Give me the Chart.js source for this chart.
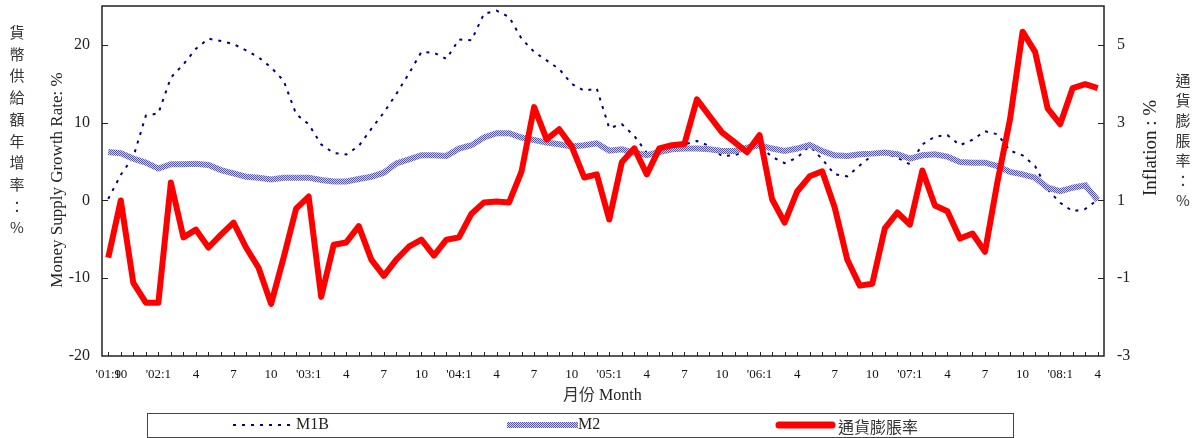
<!DOCTYPE html>
<html>
<head>
<meta charset="utf-8">
<script src="https://cdn.jsdelivr.net/npm/chart.js@4"></script>
<style>
  body { margin: 0; background: #fff; }
  #wrap { position: relative; width: 1193px; height: 438px; }
  .serif { font-family: "Liberation Serif", "Times New Roman", serif; color: #222; }
  .cjk { font-family: "Noto Sans CJK TC", sans-serif; color: #333; }
  .abs { position: absolute; white-space: nowrap; }
  .vcol { text-align: center; width: 20px; }
  .rot { transform: translate(-50%, -50%) rotate(-90deg); }
</style>
</head>
<body>
<div id="wrap">
  <canvas id="chart" width="1193" height="438"></canvas>

  <!-- axis titles -->
  <div class="abs cjk vcol" style="left:7px; top:21px; font-size:15px; line-height:21.7px;">貨<br>幣<br>供<br>給<br>額<br>年<br>增<br>率<br>：<br>%</div>
  <div class="abs serif rot" style="left:57px; top:180px; font-size:17px;">Money Supply Growth Rate: %</div>
  <div class="abs serif rot" style="left:1150px; top:148px; font-size:19px;">Inflation : %</div>
  <div class="abs cjk vcol" style="left:1173px; top:70px; font-size:15px; line-height:20px;">通<br>貨<br>膨<br>脹<br>率<br>：<br>%</div>
  <div class="abs" style="left:563px; top:381px; font-size:16px;"><span class="cjk">月份</span><span class="serif"> Month</span></div>

  <!-- legend -->
  <div class="abs" style="left:147px; top:413px; width:865px; height:23px; border:1px solid #444;"></div>
  <svg class="abs" style="left:147px; top:413px;" width="866" height="24">
    <defs>
      <pattern id="m2pat" width="2" height="2" patternUnits="userSpaceOnUse">
        <rect width="2" height="2" fill="#d0d0ee"/>
        <rect width="1" height="1" fill="#5858a8"/>
        <rect x="1" y="1" width="1" height="1" fill="#5858a8"/>
      </pattern>
    </defs>
    <line x1="86" y1="12" x2="144" y2="12" stroke="#000080" stroke-width="2" stroke-dasharray="3,6"/>
    <rect x="360" y="9" width="71" height="6" fill="url(#m2pat)"/>
    <line x1="632" y1="12" x2="685" y2="12" stroke="#ff0000" stroke-width="7" stroke-linecap="round"/>
  </svg>
  <div class="abs serif" style="left:296px; top:415px; font-size:16px;">M1B</div>
  <div class="abs serif" style="left:578px; top:415px; font-size:16px;">M2</div>
  <div class="abs cjk" style="left:838px; top:414px; font-size:16px;">通貨膨脹率</div>
</div>

<script>
// months from 2001:9 to 2008:4
const months = [
  "'01:9", "'01:10", "'01:11", "'01:12",
  "'02:1", "'02:2", "'02:3", "'02:4", "'02:5", "'02:6", "'02:7", "'02:8", "'02:9", "'02:10", "'02:11", "'02:12",
  "'03:1", "'03:2", "'03:3", "'03:4", "'03:5", "'03:6", "'03:7", "'03:8", "'03:9", "'03:10", "'03:11", "'03:12",
  "'04:1", "'04:2", "'04:3", "'04:4", "'04:5", "'04:6", "'04:7", "'04:8", "'04:9", "'04:10", "'04:11", "'04:12",
  "'05:1", "'05:2", "'05:3", "'05:4", "'05:5", "'05:6", "'05:7", "'05:8", "'05:9", "'05:10", "'05:11", "'05:12",
  "'06:1", "'06:2", "'06:3", "'06:4", "'06:5", "'06:6", "'06:7", "'06:8", "'06:9", "'06:10", "'06:11", "'06:12",
  "'07:1", "'07:2", "'07:3", "'07:4", "'07:5", "'07:6", "'07:7", "'07:8", "'07:9", "'07:10", "'07:11", "'07:12",
  "'08:1", "'08:2", "'08:3", "'08:4"
];

// money supply growth, % (left axis)
const m1b = [
  0.2, 3.3, 5.6, 10.9, 11.2, 15.8, 17.5, 19.5, 20.8, 20.5,
  20.1, 19.3, 18.4, 17.1, 15.4, 11.1, 9.8, 7.2, 6.1, 5.9,
  7.0, 9.2, 11.3, 13.7, 16.3, 19.1, 19.0, 18.2, 20.7, 20.6,
  24.0, 24.4, 23.6, 20.8, 19.1, 18.0, 16.9, 15.0, 14.1, 14.4,
  9.3, 9.8, 8.3, 6.1, 5.9, 6.8, 7.2, 7.65, 7.0, 5.7,
  5.8, 6.4, 7.0, 5.6, 4.8, 5.5, 7.0, 5.3, 3.35, 3.1,
  4.5, 5.8, 6.1, 5.5, 4.65, 7.2, 8.2, 8.4, 7.1, 7.8,
  8.9, 8.5, 6.4, 5.8, 4.4, 1.4, -0.3, -1.4, -1.1, 0.1
];
const m2 = [
  6.23, 6.06, 5.38, 4.86, 4.09, 4.65, 4.65, 4.73, 4.56, 3.91,
  3.48, 3.05, 2.93, 2.71, 2.93, 2.93, 2.93, 2.62, 2.45, 2.45,
  2.75, 3.05, 3.57, 4.77, 5.29, 5.81, 5.81, 5.72, 6.67, 7.1,
  8.09, 8.65, 8.65, 8.09, 7.78, 7.44, 7.23, 6.93, 7.1, 7.35,
  6.4, 6.58, 6.15, 5.81, 6.23, 6.58, 6.67, 6.67, 6.58, 6.36,
  6.36, 6.8, 7.1, 6.67, 6.36, 6.67, 7.14, 6.36, 5.81, 5.72,
  5.95, 6.02, 6.15, 5.94, 5.38, 5.81, 5.94, 5.63, 4.95, 4.86,
  4.86, 4.43, 3.66, 3.35, 2.93, 1.64, 1.2, 1.64, 1.94, 0.04
];
// inflation, % (right axis)
const inflation = [
  -0.47, 1.0, -1.12, -1.63, -1.63, 1.46, 0.05, 0.25, -0.21, 0.12,
  0.43, -0.21, -0.73, -1.66, -0.47, 0.79, 1.1, -1.48, -0.14, -0.08,
  0.34, -0.52, -0.94, -0.52, -0.19, -0.01, -0.42, -0.01, 0.05, 0.66,
  0.95, 0.97, 0.95, 1.75, 3.4, 2.57, 2.83, 2.39, 1.59, 1.67,
  0.51, 1.98, 2.34, 1.67, 2.34, 2.42, 2.45, 3.6, 3.17, 2.75,
  2.5, 2.24, 2.68, 1.03, 0.43, 1.23, 1.62, 1.75, 0.82, -0.52,
  -1.19, -1.14, 0.28, 0.69, 0.38, 1.77, 0.87, 0.72, 0.02, 0.15,
  -0.32, 1.49, 3.09, 5.34, 4.82, 3.37, 2.96, 3.89, 3.99, 3.89
];

const leftTicks = [-20, -10, 0, 10, 20];
const rightTicks = [-3, -1, 1, 3, 5];

const serif = '"Liberation Serif", "Times New Roman", serif';

function m2Pattern() {
  const c = document.createElement('canvas');
  c.width = 2; c.height = 2;
  const g = c.getContext('2d');
  g.fillStyle = '#d0d0ee';
  g.fillRect(0, 0, 2, 2);
  g.fillStyle = '#5858a8';
  g.fillRect(0, 0, 1, 1);
  g.fillRect(1, 1, 1, 1);
  return g.createPattern(c, 'repeat');
}

// box round the plot and the small inward ticks
const frame = {
  id: 'frame',
  afterDraw(chart) {
    const { ctx, chartArea: a, scales } = chart;
    ctx.save();
    ctx.strokeStyle = '#222';
    ctx.lineWidth = 1;
    ctx.beginPath();
    leftTicks.slice(1).forEach(v => {
      const y = Math.round(scales.y.getPixelForValue(v)) + 0.5;
      ctx.moveTo(a.left, y); ctx.lineTo(a.left + 6, y);
    });
    rightTicks.slice(1).forEach(v => {
      const y = Math.round(scales.y1.getPixelForValue(v)) + 0.5;
      ctx.moveTo(a.right, y); ctx.lineTo(a.right - 6, y);
    });
    for (let i = 0; i < months.length; i++) {
      const x = Math.round(scales.x.getPixelForValue(i)) + 0.5;
      ctx.moveTo(x, a.bottom); ctx.lineTo(x, a.bottom - 4);
    }
    ctx.stroke();
    ctx.lineWidth = 1.5;
    ctx.strokeRect(a.left, a.top, a.right - a.left, a.bottom - a.top);
    ctx.restore();
  }
};

function fixWidth(w) {
  return scale => {
    scale.width = w;
    scale.paddingTop = 0;
    scale.paddingBottom = 0;
  };
}

new Chart(document.getElementById('chart'), {
  type: 'line',
  data: {
    labels: months,
    datasets: [
      {
        label: '通貨膨脹率',
        data: inflation,
        yAxisID: 'y1',
        borderColor: '#ff0000',
        borderWidth: 6,
        borderJoinStyle: 'round',
        pointRadius: 0,
        order: 1
      },
      {
        label: 'M2',
        data: m2,
        yAxisID: 'y',
        borderColor: m2Pattern(),
        borderWidth: 6,
        pointRadius: 0,
        order: 2
      },
      {
        label: 'M1B',
        data: m1b,
        yAxisID: 'y',
        borderColor: '#000080',
        borderWidth: 2,
        borderDash: [3, 6],
        pointRadius: 0,
        order: 3
      }
    ]
  },
  options: {
    responsive: false,
    animation: false,
    layout: { padding: { top: 6, bottom: 52, left: 0, right: 0 } },
    plugins: { legend: { display: false }, tooltip: { enabled: false } },
    scales: {
      x: {
        offset: true,
        grid: { display: false, drawTicks: false },
        border: { display: false },
        afterFit(scale) {
          scale.height = 30;
          scale.paddingLeft = 0;
          scale.paddingRight = 0;
        },
        ticks: {
          autoSkip: false,
          maxRotation: 0,
          minRotation: 0,
          padding: 11,
          color: '#111',
          font: { family: serif, size: 13 },
          callback(v, i) {
            const m = months[i].split(':')[1];
            if (i === 0 || m === '1') return months[i];
            return ['4', '7', '10'].includes(m) ? m : '';
          }
        }
      },
      y: {
        position: 'left',
        min: -20,
        max: 25,
        grid: { display: false, drawTicks: false },
        border: { display: false },
        afterBuildTicks(scale) { scale.ticks = leftTicks.map(v => ({ value: v })); },
        afterFit: fixWidth(102),
        ticks: { padding: 12, color: '#222', font: { family: serif, size: 16 } }
      },
      y1: {
        position: 'right',
        min: -3,
        max: 6,
        grid: { display: false, drawTicks: false },
        border: { display: false },
        afterBuildTicks(scale) { scale.ticks = rightTicks.map(v => ({ value: v })); },
        afterFit: fixWidth(89),
        ticks: { padding: 13, color: '#222', font: { family: serif, size: 16 } }
      }
    }
  },
  plugins: [frame]
});
</script>
</body>
</html>
